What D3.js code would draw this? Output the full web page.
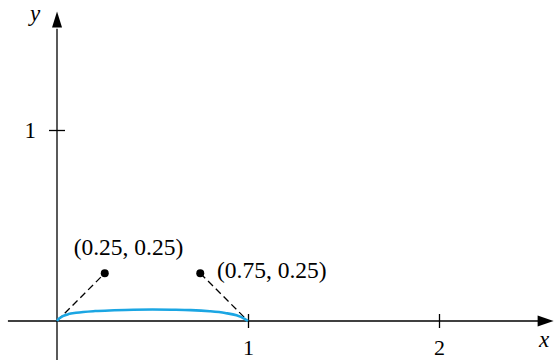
<!DOCTYPE html>
<html>
<head>
<meta charset="utf-8">
<style>
  body { margin: 0; background: #fff; }
  text { font-family: "Liberation Serif", "DejaVu Serif", serif; }
</style>
</head>
<body>
<script src="https://d3js.org/d3.v7.min.js"></script>
<script>
// curve samples (x, y)
const curveX = [0, 0.01, 0.03, 0.06, 0.1, 0.2, 0.3, 0.4, 0.5, 0.6, 0.7, 0.8, 0.88, 0.94, 0.98, 1];
const curveY = [0, 0.012, 0.025, 0.036, 0.043, 0.052, 0.056, 0.059, 0.060, 0.059, 0.057, 0.051, 0.042, 0.030, 0.013, 0];

// control points and their labels
const ctrlX = [0.25, 0.75];
const ctrlY = [0.25, 0.25];
const ctrlLabels = ["(0.25, 0.25)", "(0.75, 0.25)"];

const xTicks = [1, 2];
const yTicks = [1];

const W = 555, H = 360;
const svg = d3.select("body").append("svg")
    .attr("width", W)
    .attr("height", H);

const x = d3.scaleLinear().domain([0, 1]).range([57, 248]);
const y = d3.scaleLinear().domain([0, 1]).range([321, 130]);

// axes lines
svg.append("line")
    .attr("x1", x(-0.257)).attr("x2", x(2.52))
    .attr("y1", y(0)).attr("y2", y(0))
    .attr("stroke", "#000").attr("stroke-width", 1.3);
svg.append("line")
    .attr("x1", x(0)).attr("x2", x(0))
    .attr("y1", y(-0.21)).attr("y2", y(1.53))
    .attr("stroke", "#000").attr("stroke-width", 1.3);

// arrow heads
svg.append("path")
    .attr("d", `M${x(2.6)},${y(0)} L${x(2.6) - 16},${y(0) - 5.5} L${x(2.6) - 16},${y(0) + 5.5} Z`)
    .attr("fill", "#000");
svg.append("path")
    .attr("d", `M${x(0)},${y(1.62)} L${x(0) - 5},${y(1.62) + 16} L${x(0) + 5},${y(1.62) + 16} Z`)
    .attr("fill", "#000");

// x ticks
const gx = svg.append("g")
    .attr("transform", "translate(0," + y(0) + ")")
    .call(d3.axisBottom(x).tickValues(xTicks).tickFormat(d3.format("d")).tickSize(7));
gx.select(".domain").remove();
gx.selectAll(".tick line").attr("y1", -7).attr("y2", 7).attr("stroke-width", 1.3);
gx.selectAll(".tick text")
    .attr("y", 34).attr("dy", null)
    .attr("font-size", 22)
    .attr("font-family", "Liberation Serif");

// y ticks
const gy = svg.append("g")
    .attr("transform", "translate(" + x(0) + ",0)")
    .call(d3.axisLeft(y).tickValues(yTicks).tickFormat(d3.format("d")).tickSize(7));
gy.select(".domain").remove();
gy.selectAll(".tick line").attr("x1", -8).attr("x2", 8).attr("stroke-width", 1.3);
gy.selectAll(".tick text")
    .attr("x", -21)
    .attr("font-size", 23)
    .attr("font-family", "Liberation Serif");

// axis names
svg.append("text")
    .attr("x", 544).attr("y", 347)
    .attr("text-anchor", "middle")
    .attr("font-size", 23).attr("font-style", "italic")
    .text("x");
svg.append("text")
    .attr("x", 35).attr("y", 21)
    .attr("text-anchor", "middle")
    .attr("font-size", 23).attr("font-style", "italic")
    .text("y");

// dashed control lines
svg.append("line")
    .attr("x1", x(0)).attr("y1", y(0))
    .attr("x2", x(ctrlX[0])).attr("y2", y(ctrlY[0]))
    .attr("stroke", "#000").attr("stroke-width", 1.3)
    .attr("stroke-dasharray", "7,4");
svg.append("line")
    .attr("x1", x(ctrlX[1])).attr("y1", y(ctrlY[1]))
    .attr("x2", x(1)).attr("y2", y(0))
    .attr("stroke", "#000").attr("stroke-width", 1.3)
    .attr("stroke-dasharray", "7,4");

// curve
const pts = curveX.map((d, i) => [d, curveY[i]]);
svg.append("path")
    .datum(pts)
    .attr("fill", "none")
    .attr("stroke", "#1ba6e3")
    .attr("stroke-width", 2.6)
    .attr("d", d3.line().x(d => x(d[0])).y(d => y(d[1])).curve(d3.curveMonotoneX));

// control points
svg.selectAll(".ctrl")
    .data(ctrlX)
    .enter()
    .append("circle")
    .attr("cx", d => x(d))
    .attr("cy", (d, i) => y(ctrlY[i]))
    .attr("r", 4)
    .attr("fill", "#000");

svg.append("text")
    .attr("x", 128.5).attr("y", 255)
    .attr("text-anchor", "middle")
    .attr("font-size", 23.5)
    .text(ctrlLabels[0]);
svg.append("text")
    .attr("x", 217).attr("y", 278)
    .attr("text-anchor", "start")
    .attr("font-size", 23.5)
    .text(ctrlLabels[1]);
</script>
</body>
</html>
